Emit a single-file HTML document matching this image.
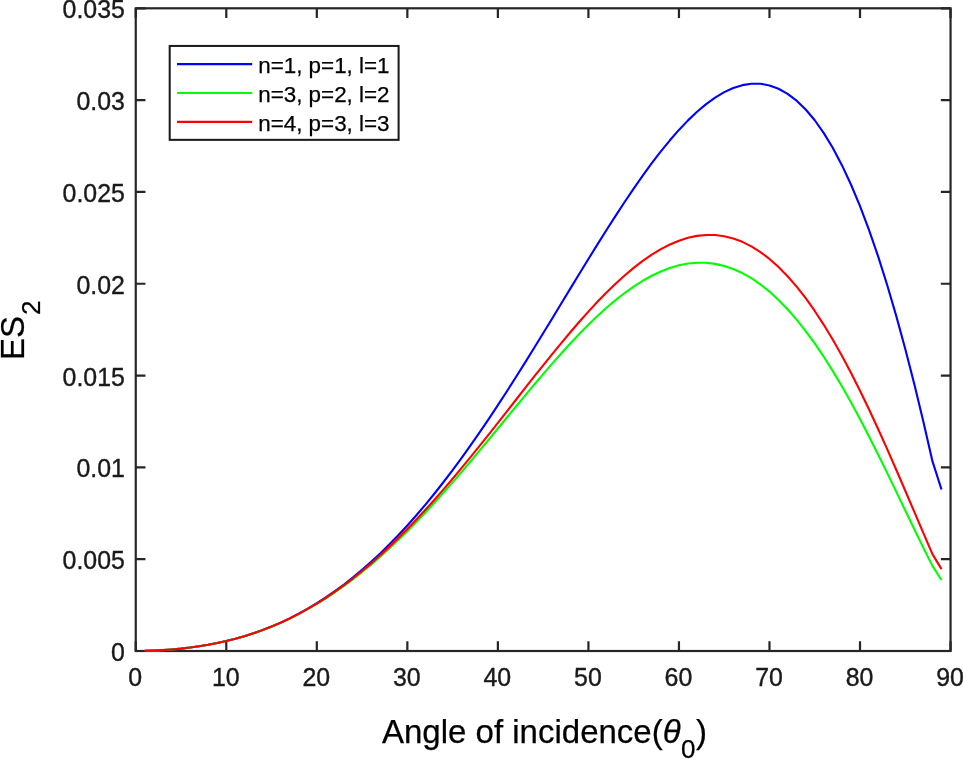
<!DOCTYPE html>
<html><head><meta charset="utf-8"><title>ES2 vs angle of incidence</title>
<style>
html,body{margin:0;padding:0;background:#fff;}
body{width:963px;height:759px;overflow:hidden;}
svg{display:block;}
text{font-family:"Liberation Sans",Arial,Helvetica,sans-serif;fill:#1a1a1a;stroke:#1a1a1a;stroke-width:0.38px;}
.tk{font-size:24.9px;}
.lab{font-size:33px;fill:#000;stroke:#000;stroke-width:0.25px;}
.leg{font-size:22.4px;fill:#000;stroke:#000;stroke-width:0.25px;}
.ax{stroke:#262626;stroke-width:2.2;fill:none;}
.cv{fill:none;stroke-width:2.1;stroke-linejoin:round;stroke-linecap:butt;}
</style></head><body>
<svg width="963" height="759" viewBox="0 0 963 759">
<rect x="0" y="0" width="963" height="759" fill="#ffffff"/>
<rect class="ax" x="135.75" y="8.3" width="814.80" height="642.70"/>
<path class="ax" d="M135.75,651.0V641.30M135.75,8.3V18.00M226.28,651.0V641.30M226.28,8.3V18.00M316.82,651.0V641.30M316.82,8.3V18.00M407.35,651.0V641.30M407.35,8.3V18.00M497.88,651.0V641.30M497.88,8.3V18.00M588.42,651.0V641.30M588.42,8.3V18.00M678.95,651.0V641.30M678.95,8.3V18.00M769.48,651.0V641.30M769.48,8.3V18.00M860.02,651.0V641.30M860.02,8.3V18.00M950.55,651.0V641.30M950.55,8.3V18.00M135.75,651.00H145.45M950.55,651.00H940.85M135.75,559.19H145.45M950.55,559.19H940.85M135.75,467.37H145.45M950.55,467.37H940.85M135.75,375.56H145.45M950.55,375.56H940.85M135.75,283.74H145.45M950.55,283.74H940.85M135.75,191.93H145.45M950.55,191.93H940.85M135.75,100.11H145.45M950.55,100.11H940.85M135.75,8.30H145.45M950.55,8.30H940.85"/>
<path class="cv" stroke="#0000ff" d="M144.80,650.90 L153.86,650.62 L162.91,650.14 L171.96,649.49 L181.02,648.64 L190.07,647.58 L199.12,646.31 L208.18,644.81 L217.23,643.06 L226.28,641.06 L235.34,638.77 L244.39,636.19 L253.44,633.30 L262.50,630.09 L271.55,626.54 L280.60,622.64 L289.66,618.37 L298.71,613.72 L307.76,608.69 L316.82,603.25 L325.87,597.41 L334.92,591.16 L343.98,584.48 L353.03,577.37 L362.08,569.83 L371.14,561.84 L380.19,553.41 L389.24,544.54 L398.30,535.21 L407.35,525.43 L416.40,515.22 L425.46,504.57 L434.51,493.50 L443.56,482.01 L452.62,470.12 L461.67,457.83 L470.72,445.17 L479.78,432.15 L488.83,418.80 L497.88,405.15 L506.94,391.21 L515.99,377.02 L525.04,362.61 L534.10,348.02 L543.15,333.29 L552.20,318.45 L561.26,303.56 L570.31,288.66 L579.36,273.79 L588.42,259.03 L597.47,244.40 L606.52,229.99 L615.58,215.84 L624.63,202.03 L633.68,188.61 L642.74,175.65 L651.79,163.23 L660.84,151.42 L669.90,140.29 L678.95,129.91 L688.00,120.37 L697.06,111.73 L706.11,104.10 L715.16,97.54 L724.22,92.13 L733.27,87.97 L742.32,85.13 L751.38,83.70 L760.43,83.77 L769.48,85.42 L778.54,88.74 L787.59,93.80 L796.64,100.68 L805.70,109.48 L814.75,120.26 L823.80,133.09 L832.86,148.04 L841.91,165.17 L850.96,184.53 L860.02,206.17 L869.07,230.12 L878.12,256.38 L887.18,284.97 L896.23,315.85 L905.28,349.00 L914.34,384.34 L923.39,421.76 L932.44,461.14 L941.50,489.50"/>
<path class="cv" stroke="#00ff00" d="M144.80,650.90 L153.86,650.62 L162.91,650.14 L171.96,649.49 L181.02,648.64 L190.07,647.58 L199.12,646.31 L208.18,644.81 L217.23,643.07 L226.28,641.07 L235.34,638.80 L244.39,636.23 L253.44,633.37 L262.50,630.19 L271.55,626.68 L280.60,622.83 L289.66,618.64 L298.71,614.09 L307.76,609.18 L316.82,603.91 L325.87,598.27 L334.92,592.26 L343.98,585.89 L353.03,579.15 L362.08,572.06 L371.14,564.60 L380.19,556.77 L389.24,548.58 L398.30,540.05 L407.35,531.17 L416.40,521.97 L425.46,512.47 L434.51,502.68 L443.56,492.63 L452.62,482.35 L461.67,471.86 L470.72,461.20 L479.78,450.39 L488.83,439.48 L497.88,428.51 L506.94,417.51 L515.99,406.52 L525.04,395.60 L534.10,384.78 L543.15,374.11 L552.20,363.65 L561.26,353.43 L570.31,343.51 L579.36,333.94 L588.42,324.77 L597.47,316.04 L606.52,307.81 L615.58,300.12 L624.63,293.03 L633.68,286.57 L642.74,280.79 L651.79,275.73 L660.84,271.44 L669.90,267.96 L678.95,265.32 L688.00,263.56 L697.06,262.71 L706.11,262.80 L715.16,263.86 L724.22,265.91 L733.27,268.97 L742.32,273.06 L751.38,278.19 L760.43,284.37 L769.48,291.60 L778.54,299.90 L787.59,309.24 L796.64,319.62 L805.70,331.03 L814.75,343.44 L823.80,356.81 L832.86,371.12 L841.91,386.30 L850.96,402.31 L860.02,419.06 L869.07,436.48 L878.12,454.45 L887.18,472.87 L896.23,491.60 L905.28,510.46 L914.34,529.28 L923.39,547.84 L932.44,565.88 L941.50,580.00"/>
<path class="cv" stroke="#ff0000" d="M144.80,650.90 L153.86,650.62 L162.91,650.14 L171.96,649.49 L181.02,648.64 L190.07,647.58 L199.12,646.31 L208.18,644.81 L217.23,643.07 L226.28,641.06 L235.34,638.78 L244.39,636.21 L253.44,633.33 L262.50,630.13 L271.55,626.60 L280.60,622.72 L289.66,618.49 L298.71,613.89 L307.76,608.92 L316.82,603.57 L325.87,597.83 L334.92,591.71 L343.98,585.20 L353.03,578.30 L362.08,571.02 L371.14,563.35 L380.19,555.31 L389.24,546.89 L398.30,538.12 L407.35,529.00 L416.40,519.54 L425.46,509.77 L434.51,499.70 L443.56,489.34 L452.62,478.74 L461.67,467.90 L470.72,456.86 L479.78,445.65 L488.83,434.30 L497.88,422.84 L506.94,411.31 L515.99,399.76 L525.04,388.21 L534.10,376.72 L543.15,365.34 L552.20,354.09 L561.26,343.05 L570.31,332.24 L579.36,321.74 L588.42,311.58 L597.47,301.82 L606.52,292.51 L615.58,283.71 L624.63,275.47 L633.68,267.84 L642.74,260.88 L651.79,254.63 L660.84,249.15 L669.90,244.49 L678.95,240.70 L688.00,237.81 L697.06,235.88 L706.11,234.94 L715.16,235.04 L724.22,236.19 L733.27,238.45 L742.32,241.83 L751.38,246.36 L760.43,252.05 L769.48,258.91 L778.54,266.96 L787.59,276.20 L796.64,286.62 L805.70,298.21 L814.75,310.95 L823.80,324.82 L832.86,339.78 L841.91,355.78 L850.96,372.77 L860.02,390.69 L869.07,409.44 L878.12,428.95 L887.18,449.09 L896.23,469.74 L905.28,490.75 L914.34,511.96 L923.39,533.15 L932.44,554.12 L941.50,569.10"/>
<text class="tk" x="135.25" y="685.8" text-anchor="middle">0</text>
<text class="tk" x="225.78" y="685.8" text-anchor="middle">10</text>
<text class="tk" x="316.32" y="685.8" text-anchor="middle">20</text>
<text class="tk" x="406.85" y="685.8" text-anchor="middle">30</text>
<text class="tk" x="497.38" y="685.8" text-anchor="middle">40</text>
<text class="tk" x="587.92" y="685.8" text-anchor="middle">50</text>
<text class="tk" x="678.45" y="685.8" text-anchor="middle">60</text>
<text class="tk" x="768.98" y="685.8" text-anchor="middle">70</text>
<text class="tk" x="859.52" y="685.8" text-anchor="middle">80</text>
<text class="tk" x="950.05" y="685.8" text-anchor="middle">90</text>
<text class="tk" x="124.9" y="661.00" text-anchor="end">0</text>
<text class="tk" x="124.9" y="569.19" text-anchor="end">0.005</text>
<text class="tk" x="124.9" y="477.37" text-anchor="end">0.01</text>
<text class="tk" x="124.9" y="385.56" text-anchor="end">0.015</text>
<text class="tk" x="124.9" y="293.74" text-anchor="end">0.02</text>
<text class="tk" x="124.9" y="201.93" text-anchor="end">0.025</text>
<text class="tk" x="124.9" y="110.11" text-anchor="end">0.03</text>
<text class="tk" x="124.9" y="18.30" text-anchor="end">0.035</text>
<text class="lab" x="382" y="742.9">Angle of incidence(<tspan font-style="italic">θ</tspan><tspan font-size="26" dy="15" dx="0.3">0</tspan><tspan dy="-15" dx="0.6">)</tspan></text>
<text class="lab" transform="translate(23.9,360.1) rotate(-90)">ES<tspan font-size="26" dy="16" dx="1.2">2</tspan></text>
<rect x="169.7" y="45.95" width="228.9" height="93.9" fill="#fff" stroke="#1c1c1c" stroke-width="2.05"/>
<path d="M177,64.1H252.2" stroke="#0000ff" stroke-width="2.2" fill="none"/>
<text class="leg" x="258.2" y="73.0">n=1, p=1, l=1</text>
<path d="M177,93.0H252.2" stroke="#00ff00" stroke-width="2.2" fill="none"/>
<text class="leg" x="258.2" y="101.9">n=3, p=2, l=2</text>
<path d="M177,121.9H252.2" stroke="#ff0000" stroke-width="2.2" fill="none"/>
<text class="leg" x="258.2" y="130.8">n=4, p=3, l=3</text>
</svg>
</body></html>
